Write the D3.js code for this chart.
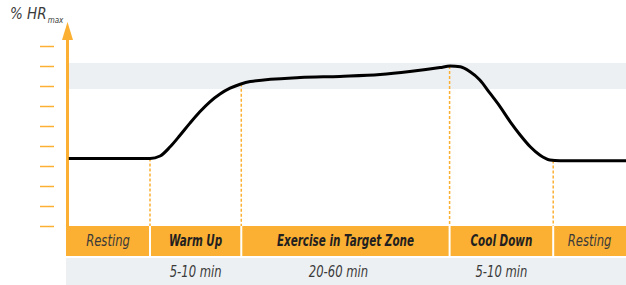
<!DOCTYPE html>
<html>
<head>
<meta charset="utf-8">
<script src="https://cdn.jsdelivr.net/npm/d3@7"></script>
<style>
  body { margin: 0; background: #fff; }
  text { font-family: "DejaVu Sans Condensed", "Liberation Sans Narrow", sans-serif; font-style: italic; }
</style>
</head>
<body>
<svg id="chart"></svg>
<script>
// time (0-100 of session) vs % HRmax
const timeVals = [0.5, 15, 16.8, 18.6, 20.4, 22.1, 23.9, 25.7, 27.5, 29.3, 31.1, 32.9, 41.8, 48.9, 56.1, 61.4, 66.8, 68.6, 70.4, 72.1, 73.9, 75.7, 77.5, 79.3, 81.1, 82.9, 84.6, 86.4, 88.2, 100]
const hrVals   = [43.8, 43.8, 45, 49.6, 55.5, 61.3, 67.1, 72.1, 76, 78.9, 80.9, 82.2, 84.2, 84.8, 85.7, 87.2, 89.2, 90, 89.6, 87.2, 83, 76.4, 69.7, 62.2, 55.5, 49.6, 45.5, 43, 42.6, 42.6]
const yTicks = [10, 20, 30, 40, 50, 60, 70, 80, 90, 100]
const targetZone = [78.5, 91.5]
const phaseNames = ["Resting", "Warm Up", "Exercise in Target Zone", "Cool Down", "Resting"]
const phaseBold = [false, true, true, true, false]
const phaseBounds = [0, 15, 31.3, 68.5, 87, 100]
const phaseDurations = ["", "5-10 min", "20-60 min", "5-10 min", ""]

const width = 626, height = 285
const orange = "#fbb033"
const svg = d3.select("#chart").attr("width", width).attr("height", height)

const x = d3.scaleLinear().domain([0, 100]).range([66, 626])
const y = d3.scaleLinear().domain([0, 100]).range([246, 46])
const mid = i => (x(phaseBounds[i]) + x(phaseBounds[i + 1])) / 2

// target zone band
svg.append("rect")
  .attr("x", 69).attr("width", width - 69)
  .attr("y", y(targetZone[1])).attr("height", y(targetZone[0]) - y(targetZone[1]))
  .attr("fill", "#edf0f2")

// tick marks
const yAxis = svg.append("g")
  .attr("transform", "translate(54,0)")
  .call(d3.axisLeft(y).tickValues(yTicks).tickSize(14).tickFormat(""))
yAxis.select(".domain").remove()
yAxis.selectAll(".tick line").attr("stroke", orange).attr("stroke-width", 1.5)

// bottom rows
svg.append("rect").attr("x", 66).attr("y", 258).attr("width", width - 66).attr("height", 27).attr("fill", "#edf0f2")
svg.selectAll(".phase")
  .data(phaseNames)
  .enter()
  .append("rect")
  .attr("class", "phase")
  .attr("x", (d, i) => x(phaseBounds[i]) + (i > 0 ? 1 : 0))
  .attr("width", (d, i) => x(phaseBounds[i + 1]) - x(phaseBounds[i]) - (i > 0 ? 1 : 0) - (i < 4 ? 1 : 0))
  .attr("y", 226).attr("height", 30)
  .attr("fill", orange)

svg.selectAll(".phaseLabel")
  .data(phaseNames)
  .enter()
  .append("text")
  .attr("transform", (d, i) => `translate(${mid(i)},246) scale(${phaseBold[i] ? 0.77 : 0.86},1)`)
  .attr("text-anchor", "middle")
  .attr("font-size", 15)
  .attr("font-weight", (d, i) => phaseBold[i] ? "bold" : "normal")
  .attr("fill", (d, i) => phaseBold[i] ? "#231f20" : "#3a3a3a")
  .text(d => d)

svg.selectAll(".duration")
  .data(phaseDurations)
  .enter()
  .append("text")
  .attr("transform", (d, i) => `translate(${mid(i) - (i == 2 ? 7 : 0)},277) scale(0.86,1)`)
  .attr("text-anchor", "middle")
  .attr("font-size", 15)
  .attr("fill", "#3a3a3a")
  .text(d => d)

// y axis line with arrow
svg.append("line")
  .attr("x1", 67.5).attr("x2", 67.5).attr("y1", 38).attr("y2", 228)
  .attr("stroke", orange).attr("stroke-width", 3)
svg.append("path")
  .attr("d", "M62,40 L67.5,22 L73,40 Z")
  .attr("fill", orange)

// heart rate curve
const line = d3.line().x((d, i) => x(timeVals[i])).y(d => y(d)).curve(d3.curveMonotoneX)
const path = svg.append("path")
  .datum(hrVals)
  .attr("fill", "none")
  .attr("stroke", "#000")
  .attr("stroke-width", 3)
  .attr("d", line)

// dashed phase boundaries, from the curve down to the phase row
const pathNode = path.node()
const total = pathNode.getTotalLength()
const curveY = px => {
  let lo = 0, hi = total
  for (let k = 0; k < 40; k++) {
    const m = (lo + hi) / 2
    if (pathNode.getPointAtLength(m).x < px) lo = m; else hi = m
  }
  return pathNode.getPointAtLength(lo).y
}
svg.selectAll(".divider")
  .data(phaseBounds.slice(1, 5))
  .enter()
  .insert("line", "path")
  .attr("x1", d => x(d)).attr("x2", d => x(d))
  .attr("y1", d => curveY(x(d))).attr("y2", 226)
  .attr("stroke", orange).attr("stroke-width", 1.5)
  .attr("stroke-dasharray", "3,2")
svg.node().appendChild(pathNode)

// axis title
const title = svg.append("text").attr("x", 10).attr("y", 19).attr("fill", "#3a3a3a").attr("font-size", 15)
title.append("tspan").text("% HR")
title.append("tspan").attr("font-size", 8).attr("dy", 4).attr("dx", 1).text("max")
</script>
</body>
</html>
